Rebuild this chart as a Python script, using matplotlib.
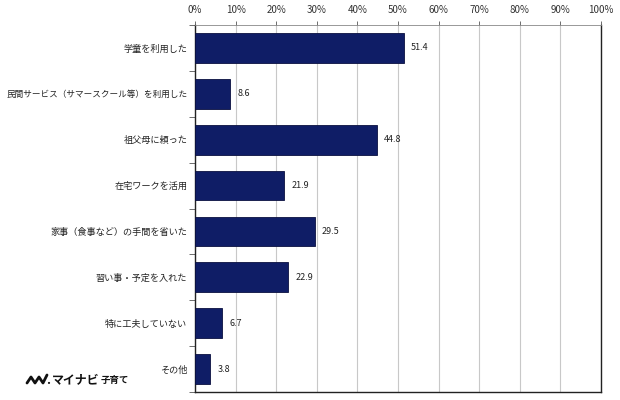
import matplotlib
matplotlib.use('Agg')
import matplotlib.pyplot as plt
import numpy as np

plt.rcParams['font.family'] = ['Noto Sans CJK JP', 'DejaVu Sans']

categories = ['学童を利用した', '民間サービス（サマースクール等）を利用した', '祖父母に頼った',
              '在宅ワークを活用', '家事（食事など）の手間を省いた', '習い事・予定を入れた',
              '特に工夫していない', 'その他']
values = [51.4, 8.6, 44.8, 21.9, 29.5, 22.9, 6.7, 3.8]
xticks = np.arange(0, 101, 10)
xtick_labels = ['%d%%' % t for t in xticks]

fig = plt.figure(figsize=(6.2, 4.0), dpi=100)
ax = fig.add_axes([195/620, 1 - 392/400, 406/620, 367/400])

y = np.arange(len(categories))
ax.barh(y, values, height=0.65, color='#0f1d66', edgecolor='#0a1040', linewidth=0.6, zorder=3)

for yi, v in zip(y, values):
    ax.text(v + 1.8, yi, '%.1f' % v, va='center', ha='left', fontsize=6.5, color='#222222')

ax.set_xlim(0, 100)
ax.set_ylim(len(categories) - 0.5, -0.5)
ax.xaxis.tick_top()
ax.set_xticks(xticks)
ax.set_xticklabels(xtick_labels, fontsize=7, color='#333333')
ax.tick_params(axis='x', length=3, width=0.6, color='#555555', pad=4.5)
ax.grid(axis='x', color='#c8c8c8', linewidth=0.8, zorder=0)

ax.set_yticks(y)
ax.set_yticklabels(categories, fontsize=6.6, color='#222222')
ax.tick_params(axis='y', which='major', length=0, pad=5.5)
ax.get_yticklabels()[1].set_fontsize(6.2)
ax.set_yticks(np.arange(-0.5, len(categories) + 0.5, 1), minor=True)
ax.tick_params(axis='y', which='minor', length=4, width=0.6, color='#555555')

for s in ['left', 'bottom', 'right']:
    ax.spines[s].set_color('#222222')
    ax.spines[s].set_linewidth(1.0)
ax.spines['top'].set_color('#888888')
ax.spines['top'].set_linewidth(0.6)

# logo
fig.lines.append(plt.Line2D([27/620, 31/620, 35/620, 39/620, 43/620, 47/620],
                            [1 - 383/400, 1 - 377/400, 1 - 383/400, 1 - 377/400, 1 - 383/400, 1 - 375/400],
                            transform=fig.transFigure, color='#111111', linewidth=2.0,
                            solid_capstyle='round', solid_joinstyle='round'))
fig.text(46.5/620, 1 - 380/400, '.', fontsize=9, fontweight='bold', va='center', ha='left', color='#111111')
fig.text(52/620, 1 - 380/400, 'マイナビ', fontsize=8.6, fontweight='bold', va='center', ha='left', color='#111111')
fig.text(101/620, 1 - 380.5/400, '子育て', fontsize=6.8, fontweight='bold', va='center', ha='left', color='#111111')

fig.savefig('out.png', dpi=100)
